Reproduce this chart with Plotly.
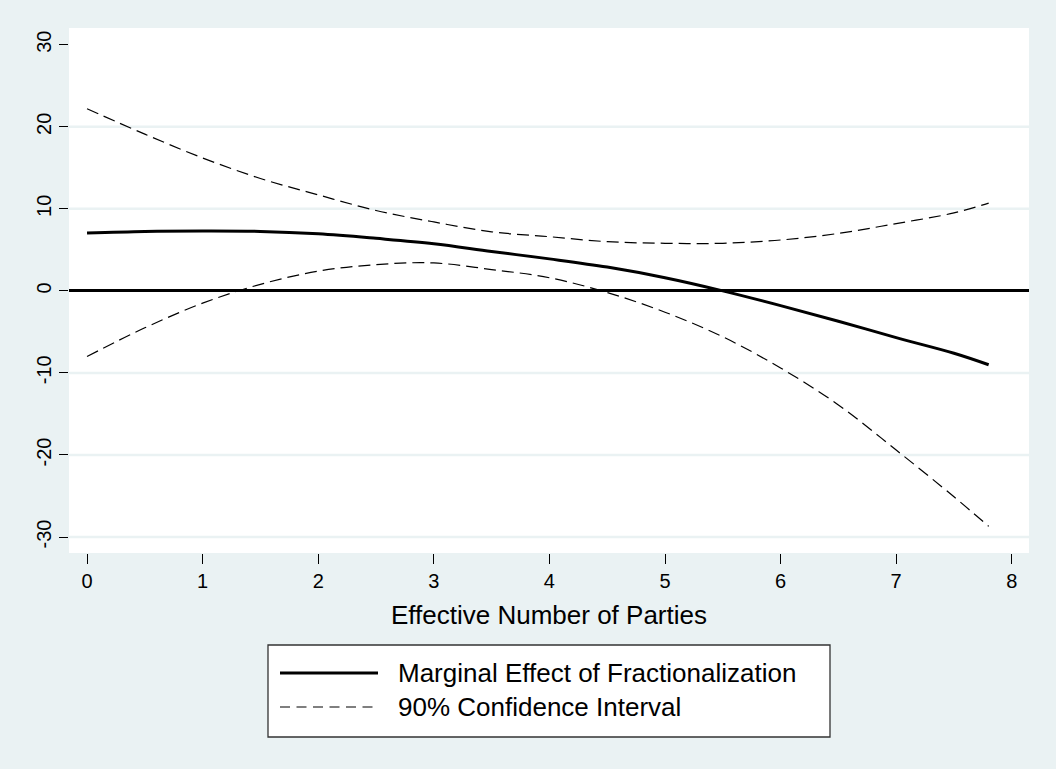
import plotly.graph_objects as go

# ---- data ----
x_parties = [0, 0.5, 1, 1.5, 2, 2.5, 3, 3.5, 4, 4.5, 5, 5.5, 6, 6.5, 7, 7.5, 7.8]
marginal_effect = [7.05, 7.25, 7.3, 7.25, 6.95, 6.4, 5.75, 4.8, 3.9, 2.9, 1.6, 0.0,
                   -1.8, -3.7, -5.7, -7.6, -9.0]
ci_upper = [22.2, 19.1, 16.2, 13.7, 11.7, 9.8, 8.4, 7.2, 6.6, 6.0, 5.8, 5.8,
            6.2, 7.0, 8.2, 9.5, 10.7]
ci_lower = [-8.0, -4.5, -1.5, 0.8, 2.4, 3.2, 3.4, 2.6, 1.6, -0.2, -2.6, -5.6,
            -9.4, -13.9, -19.4, -25.1, -28.7]

y_ticks = [-30, -20, -10, 0, 10, 20, 30]
y_tick_labels = ["-30", "-20", "-10", "0", "10", "20", "30"]
x_ticks = [0, 1, 2, 3, 4, 5, 6, 7, 8]
grid_values = [-30, -20, -10, 10, 20]
legend_labels = ["Marginal Effect of Fractionalization", "90% Confidence Interval"]
x_title = "Effective Number of Parties"

# ---- layout geometry (pixels) ----
W, H = 1056, 769
L, R, T, B = 69, 1029, 28, 553
BG = "#EAF2F3"
FONT = "Liberation Sans, Arial, Helvetica, sans-serif"
DASH = "12px,6px"


def pxx(x):
    return (x - L) / (R - L)


def pxy(y):
    return (B - y) / (B - T)


fig = go.Figure()
fig.add_trace(go.Scatter(x=x_parties, y=ci_upper, mode="lines", name=legend_labels[1],
                         line=dict(color="black", width=1.2, dash=DASH, shape="spline"),
                         showlegend=False, hoverinfo="skip"))
fig.add_trace(go.Scatter(x=x_parties, y=ci_lower, mode="lines", name=legend_labels[1],
                         line=dict(color="black", width=1.2, dash=DASH, shape="spline"),
                         showlegend=False, hoverinfo="skip"))
fig.add_trace(go.Scatter(x=x_parties, y=marginal_effect, mode="lines", name=legend_labels[0],
                         line=dict(color="black", width=3, shape="spline"),
                         showlegend=False, hoverinfo="skip"))

# horizontal gridlines (none at the top tick; black zero line handled by the axis)
for v in grid_values:
    fig.add_shape(type="line", xref="paper", x0=0, x1=1, yref="y", y0=v, y1=v,
                  line=dict(color=BG, width=2.5), layer="below")

# manual legend box (Stata style)
fig.add_shape(type="rect", xref="paper", yref="paper",
              x0=pxx(268), x1=pxx(830), y0=pxy(737), y1=pxy(645),
              line=dict(color="#333333", width=1.3), fillcolor="white", layer="above")
fig.add_shape(type="line", xref="paper", yref="paper",
              x0=pxx(280), x1=pxx(378), y0=pxy(673), y1=pxy(673),
              line=dict(color="black", width=3), layer="above")
fig.add_shape(type="line", xref="paper", yref="paper",
              x0=pxx(280), x1=pxx(378), y0=pxy(707), y1=pxy(707),
              line=dict(color="black", width=1.2, dash="10px,6.5px"), layer="above")
for label, yy in zip(legend_labels, [673, 707]):
    fig.add_annotation(text=label, xref="paper", yref="paper", x=pxx(396), y=pxy(yy),
                       xanchor="left", yanchor="middle", showarrow=False,
                       font=dict(family=FONT, size=26, color="black"))

fig.update_layout(
    width=W, height=H,
    paper_bgcolor=BG, plot_bgcolor="white",
    margin=dict(l=L, r=W - R, t=T, b=H - B, pad=0),
    font=dict(family=FONT, color="black"),
    showlegend=False,
    xaxis=dict(range=[-0.156, 8.149], tickvals=x_ticks, ticks="outside", ticklen=10,
               tickwidth=1.3, tickcolor="black", showgrid=False, zeroline=False,
               showline=False, tickfont=dict(size=20, family=FONT, color="black"),
               title=dict(text=x_title, font=dict(size=26, family=FONT, color="black"),
                          standoff=14),
               automargin=False),
    yaxis=dict(range=[-31.95, 32.04], tickvals=y_ticks, ticktext=y_tick_labels,
               ticks="outside", ticklen=9,
               tickwidth=1.3, tickcolor="black", tickangle=-90, showgrid=False,
               zeroline=True, zerolinecolor="black", zerolinewidth=2.7,
               showline=False, tickfont=dict(size=20, family=FONT, color="black"),
               automargin=False),
)

fig.write_html("out.html",
               config={"displayModeBar": False},
               post_script="document.body.style.margin='0';"
                           "document.body.style.background='" + BG + "';")
